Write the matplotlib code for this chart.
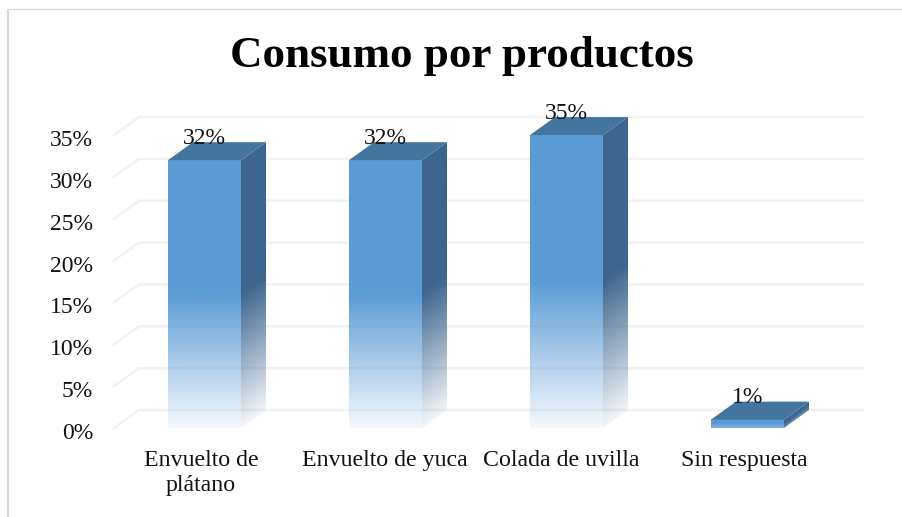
import numpy as np
import matplotlib
matplotlib.use("Agg")
import matplotlib.pyplot as plt
from matplotlib.colors import to_rgb
from matplotlib.patches import Polygon

categories = ["Envuelto de\nplátano", "Envuelto de yuca", "Colada de uvilla", "Sin respuesta"]
values = [32, 32, 35, 1]
y_ticks = [0, 5, 10, 15, 20, 25, 30, 35]
label_shift = [-0.02, -0.005, -0.03, -0.017]

W, H = 903, 517
PX_PER_PCT = 8.37
PX_PER_CAT = 181
LEFT_PX, BASE_PX = 114, 428
Y_MAX = 42
DEPTH_X = 25 / PX_PER_CAT
DEPTH_Y = 18 / PX_PER_PCT
BAR_W = 73 / PX_PER_CAT
FRONT, SIDE, TOP = "#5B9BD5", "#3C668F", "#44759F"
GRID = "#F2F2F2"
FRAME = "#D9D9D9"

plt.rcParams["font.family"] = ["Liberation Serif", "DejaVu Serif"]
fig = plt.figure(figsize=(W / 100, H / 100), dpi=100)

# Page frame drawn in figure pixels
frame = fig.add_axes([0, 0, 1, 1])
frame.set_xlim(0, W)
frame.set_ylim(H, 0)
frame.axis("off")
frame.plot([8, 8], [H, 9], color=FRAME, lw=1.5, solid_capstyle="butt")
frame.plot([8, W], [9, 9], color=FRAME, lw=1.0, solid_capstyle="butt")

ax = fig.add_axes([LEFT_PX / W, 1 - BASE_PX / H,
                   (4 * PX_PER_CAT + 40) / W, Y_MAX * PX_PER_PCT / H])
x_limits = (-0.5, 3.5 + 40 / PX_PER_CAT)
ax.set_xlim(*x_limits)
ax.set_ylim(0, Y_MAX)
ax.axis("off")
ax.patch.set_alpha(0)

# Floor and back wall lines of the 3D box
x0 = -0.5
x_back_end = 3.5 + DEPTH_X
for t in y_ticks:
    ax.plot([x0, x0 + DEPTH_X, x_back_end], [t, t + DEPTH_Y, t + DEPTH_Y],
            color=GRID, lw=1.8, clip_on=False, zorder=1, solid_joinstyle="miter")
    ax.text(x0 - 0.115, t - 0.65, f"{t}%", ha="right", va="center", fontsize=17, color="#111111")


def fade(t, height):
    """Opacity along a bar: solid in the upper half, nearly clear at the foot."""
    floor = 0.06 if height > 5 else 0.75
    return np.clip(floor + (1 - floor) * t / 0.5, 0, 1)


def face_image(color, alpha):
    rgba = np.ones(alpha.shape + (4,))
    rgba[..., :3] = to_rgb(color)
    rgba[..., 3] = alpha
    return rgba


for i, (name, v, shift) in enumerate(zip(categories, values, label_shift)):
    xl, xr = i - BAR_W / 2, i + BAR_W / 2

    # Front face with vertical fade
    ts = np.linspace(1, 0, 256)[:, None]
    ax.imshow(face_image(FRONT, fade(ts, v)), extent=(xl, xr, 0, v),
              aspect="auto", interpolation="bilinear", zorder=3, clip_on=False)

    # Side face: fade follows the sheared height of the face
    xs = np.linspace(0, DEPTH_X, 64)
    ys = np.linspace(v + DEPTH_Y, 0, 400)
    gx, gy = np.meshgrid(xs, ys)
    h = np.clip((gy - gx * DEPTH_Y / DEPTH_X) / v, 0, 1)
    side_img = ax.imshow(face_image(SIDE, fade(h, v)),
                         extent=(xr, xr + DEPTH_X, 0, v + DEPTH_Y),
                         aspect="auto", interpolation="bilinear", zorder=3)
    side_clip = Polygon([(xr, 0), (xr + DEPTH_X, DEPTH_Y), (xr + DEPTH_X, v + DEPTH_Y), (xr, v)],
                        transform=ax.transData)
    side_img.set_clip_path(side_clip)

    # Top face
    ax.add_patch(Polygon([(xl, v), (xr, v), (xr + DEPTH_X, v + DEPTH_Y), (xl + DEPTH_X, v + DEPTH_Y)],
                         closed=True, facecolor=TOP, edgecolor="none", zorder=4, clip_on=False))

    ax.text(i, v + 2.6, f"{v}%", ha="center", va="center", fontsize=17,
            color="#111111", zorder=6, clip_on=False)
    ax.text(i + shift, -2.65, name, ha="center", va="top", fontsize=17.2, color="#111111",
            linespacing=1.25, clip_on=False)

ax.set_xlim(*x_limits)
ax.set_ylim(0, Y_MAX)

fig.text(462 / W, 1 - 56 / H, "Consumo por productos", ha="center", va="center",
         fontsize=32.4, fontweight="bold", color="black")

fig.savefig("out.png", dpi=100, facecolor="white")
